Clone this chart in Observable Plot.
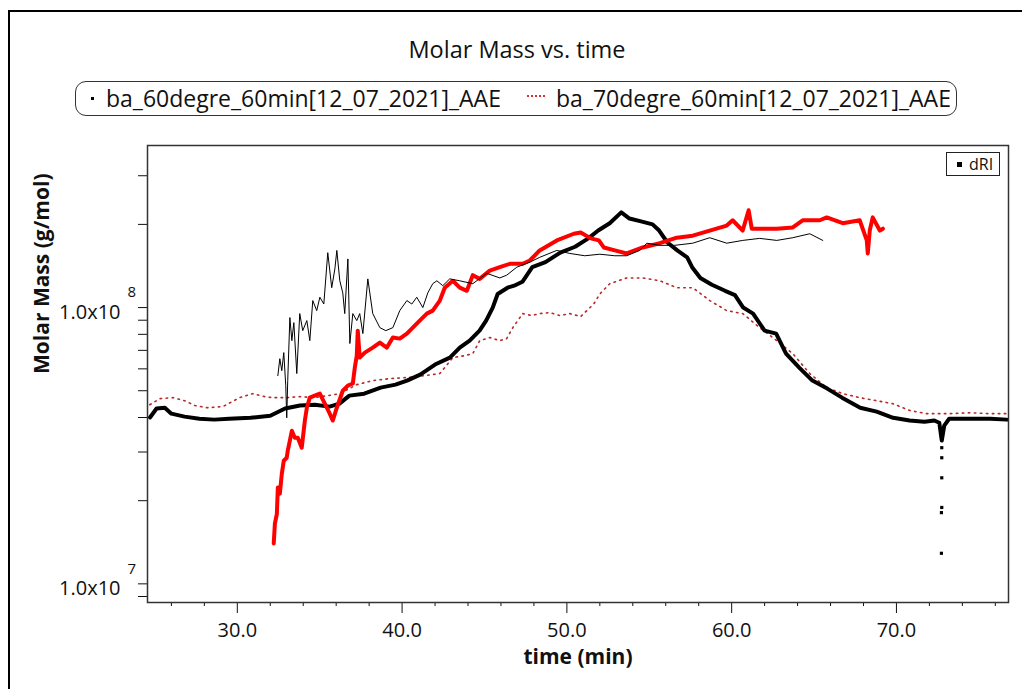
<!DOCTYPE html>
<html>
<head>
<meta charset="utf-8">
<script src="https://cdn.jsdelivr.net/npm/d3@7"></script>
<script src="https://cdn.jsdelivr.net/npm/@observablehq/plot@0.6"></script>
<style>
  body { margin: 0; background: #fff; font-family: "Open Sans", sans-serif; color: #111; }
  #page { position: relative; width: 1022px; height: 689px; overflow: hidden; background: #fff; }
  #border { position: absolute; left: 8px; top: 10px; width: 1200px; height: 900px; border-left: 2px solid #000; border-top: 2px solid #000; }
  #title { position: absolute; left: 0; width: 1034px; top: 33px; text-align: center; font-size: 23.5px; line-height: 32px; }
  #legend { position: absolute; left: 75px; top: 81px; width: 882px; height: 35px; border: 1.5px solid #333; border-radius: 11px; box-sizing: border-box; }
  #legend span { position: absolute; }
  .lt { font-size: 23px; line-height: 32px; top: 0; white-space: nowrap; }
  #mk1 { left: 15px; top: 15px; width: 3px; height: 3px; background: #000; }
  #mk2 { left: 451px; top: 13px; width: 18px; height: 0; border-top: 2px dotted #e03030; }
  #chart { position: absolute; left: 0; top: 130px; }
  #dri { position: absolute; left: 946px; top: 152px; width: 54px; height: 24px; border: 1px solid #222; box-sizing: border-box; background: #fff; }
  #dri .sq { position: absolute; left: 10px; top: 9px; width: 5px; height: 5px; background: #000; }
  #dri .tx { position: absolute; left: 22px; top: 0; font-size: 16px; line-height: 22px; }
</style>
</head>
<body>
<div id="page">
  <div id="border"></div>
  <div id="title">Molar Mass vs. time</div>
  <div id="legend">
    <span id="mk1"></span><span class="lt" style="left:30px">ba_60degre_60min[12_07_2021]_AAE</span>
    <span id="mk2"></span><span class="lt" style="left:480px">ba_70degre_60min[12_07_2021]_AAE</span>
  </div>
  <div id="chart"></div>
  <div id="dri"><span class="sq"></span><span class="tx">dRI</span></div>
</div>
<script>
// ---- axis ticks ----
const xMajorTicks = [30, 40, 50, 60, 70];
const xMinorTicks = [26, 28, 32, 34, 36, 38, 42, 44, 46, 48, 52, 54, 56, 58, 62, 64, 66, 68, 72, 74, 76];
const yMajorTicks = [1e7, 1e8];
const yMinorTicks = [9e6, 1e7, 2e7, 3e7, 4e7, 5e7, 6e7, 7e7, 8e7, 9e7, 1e8, 2e8, 3e8];

// ---- ba_60degre: thick black trace (time min, molar mass g/mol) ----
const blackThickTime = [24.7,25.1,25.6,26.0,26.8,27.7,28.6,29.5,30.8,32.0,
  32.9,33.8,34.7,35.6,36.2,36.8,37.7,38.7,39.6,40.3,
  41.1,42.0,42.9,43.5,44.1,44.7,45.1,45.5,45.8,46.4,
  46.8,47.3,47.9,48.7,49.6,50.5,51.3,51.9,52.6,53.3,
  53.8,54.5,55.2,55.6,56.1,56.7,57.3,57.6,58.1,58.8,
  59.6,60.2,60.7,61.3,62.0,62.7,63.3,64.1,64.9,65.8,
  66.7,67.8,68.8,69.8,70.8,71.7,72.3,72.6,72.75,72.9,73.2,
  74.5,75.7,76.7];
const blackThickMass = [4.00e7,4.31e7,4.34e7,4.13e7,4.03e7,3.96e7,3.93e7,3.96e7,3.99e7,4.06e7,
  4.31e7,4.42e7,4.45e7,4.38e7,4.49e7,4.80e7,4.88e7,5.13e7,5.26e7,5.44e7,
  5.72e7,6.22e7,6.59e7,7.16e7,7.59e7,8.25e7,8.97e7,10.0e7,11.2e7,11.8e7,
  12.0e7,12.4e7,14.0e7,14.6e7,15.8e7,16.6e7,17.8e7,19.0e7,20.2e7,22.1e7,
  21.0e7,20.5e7,20.0e7,19.0e7,17.2e7,16.1e7,15.2e7,14.0e7,12.8e7,12.1e7,
  11.5e7,11.1e7,10.0e7,9.51e7,8.25e7,8.05e7,6.81e7,6.06e7,5.44e7,5.09e7,
  4.72e7,4.34e7,4.20e7,3.99e7,3.90e7,3.86e7,3.90e7,3.83e7,3.30e7,3.74e7,3.96e7,
  3.96e7,3.96e7,3.93e7];
// isolated points of the dip near 72.7 min
const dipTime = [72.75, 72.75, 72.75, 72.75, 72.73, 72.73];
const dipMass = [3.11e7, 2.86e7, 2.42e7, 1.89e7, 1.81e7, 1.29e7];

// ---- ba_60degre: thin black trace ----
const thinTime = [32.46,32.58,32.70,32.82,32.94,33.00,33.06,33.19,33.31,33.43,
  33.61,33.79,33.97,34.22,34.40,34.58,34.82,35.01,35.25,35.49,
  35.73,35.92,36.04,36.22,36.40,36.52,36.71,36.83,37.01,37.25,
  37.43,37.62,37.92,38.22,38.65,39.01,39.44,39.86,40.29,40.59,
  40.89,41.26,41.56,41.86,42.11,42.47,42.89,43.50,44.29,45.14,
  45.93,46.35,46.96,47.75,48.35,49.39,50.18,51.09,52.00,52.91,
  53.63,54.42,54.85,55.64,56.55,57.64,58.67,59.70,60.67,61.70,
  62.74,63.71,64.74,65.53];
const thinMass = [5.67e7,6.53e7,5.91e7,6.87e7,5.22e7,3.99e7,5.44e7,9.20e7,7.59e7,8.82e7,
  5.77e7,9.51e7,8.25e7,8.97e7,7.59e7,10.6e7,9.75e7,10.9e7,10.3e7,15.8e7,
  11.8e7,13.8e7,16.1e7,12.5e7,11.3e7,9.51e7,15.0e7,7.41e7,9.51e7,8.97e7,
  9.51e7,8.05e7,12.7e7,9.51e7,8.46e7,8.25e7,8.46e7,9.75e7,10.6e7,10.3e7,
  10.9e7,10.0e7,11.3e7,12.2e7,12.5e7,12.0e7,12.7e7,12.5e7,12.2e7,13.3e7,
  12.8e7,13.1e7,14.0e7,14.6e7,15.2e7,16.1e7,15.7e7,15.4e7,15.6e7,15.4e7,
  15.4e7,16.1e7,17.1e7,16.8e7,16.8e7,17.1e7,17.9e7,17.1e7,17.5e7,17.8e7,
  17.5e7,17.9e7,18.5e7,17.5e7];

// ---- ba_70degre: thick red trace ----
const redTime = [32.21,32.28,32.40,32.46,32.58,32.70,32.82,33.00,33.06,33.31,
  33.49,33.67,33.91,34.10,34.22,34.40,34.70,35.01,35.31,35.61,
  35.79,36.04,36.40,36.71,37.01,37.13,37.25,37.31,37.43,37.74,
  38.22,38.65,39.07,39.44,39.86,40.29,40.65,41.07,41.50,41.86,
  42.29,42.59,43.08,43.50,43.93,44.29,44.71,45.32,45.93,46.54,
  47.32,47.75,48.35,49.39,50.42,50.84,51.45,51.94,52.24,52.91,
  53.63,54.60,55.64,56.67,57.64,58.67,59.70,60.06,60.67,61.03,
  61.22,61.70,62.74,63.71,64.31,65.35,65.77,66.74,67.77,68.20,
  68.26,68.38,68.56,68.99,69.18];
const redMass = [1.40e7,1.65e7,1.79e7,2.23e7,2.12e7,2.50e7,2.79e7,2.86e7,3.03e7,3.58e7,
  3.38e7,3.38e7,3.11e7,3.90e7,4.34e7,4.72e7,4.80e7,4.88e7,4.49e7,4.13e7,
  3.90e7,4.34e7,5.00e7,5.22e7,5.31e7,6.06e7,6.70e7,8.25e7,6.59e7,6.87e7,
  7.16e7,7.47e7,7.16e7,7.79e7,7.72e7,8.05e7,8.46e7,8.97e7,9.51e7,9.75e7,
  10.6e7,11.8e7,12.5e7,11.8e7,11.5e7,13.1e7,12.7e7,13.6e7,14.0e7,14.4e7,
  14.4e7,14.8e7,16.1e7,17.5e7,18.5e7,18.7e7,17.8e7,17.5e7,16.5e7,16.1e7,
  15.7e7,16.5e7,17.1e7,17.9e7,18.2e7,19.0e7,19.8e7,20.7e7,19.0e7,22.5e7,
  19.3e7,19.3e7,19.3e7,19.5e7,20.7e7,20.7e7,21.2e7,20.2e7,20.7e7,17.5e7,
  15.7e7,19.0e7,21.2e7,19.0e7,19.3e7];

// ---- ba_70degre: dotted dark-red trace ----
const dotTime = [24.69,25.30,26.09,26.81,27.42,28.15,29.12,30.15,30.94,31.67,
  32.15,33.00,33.79,34.70,35.49,36.22,37.25,38.22,39.25,40.29,
  41.38,42.29,43.08,43.81,44.29,44.71,45.32,45.93,46.35,46.72,
  47.32,47.87,48.35,48.96,49.57,50.18,50.84,51.63,52.00,52.60,
  53.63,54.60,55.64,56.67,57.64,58.67,59.70,60.67,61.70,62.74,
  63.71,64.74,65.77,66.74,67.77,68.80,69.78,70.81,71.84,73.23,
  74.45,75.66,76.69];
const dotMass = [4.45e7,4.68e7,4.72e7,4.60e7,4.42e7,4.34e7,4.38e7,4.72e7,4.88e7,4.76e7,
  4.72e7,4.72e7,4.76e7,4.72e7,4.80e7,4.88e7,5.26e7,5.44e7,5.53e7,5.58e7,
  5.67e7,5.77e7,6.59e7,6.70e7,6.81e7,7.59e7,7.79e7,7.59e7,7.72e7,8.46e7,
  9.51e7,9.36e7,9.51e7,9.59e7,9.36e7,9.51e7,9.28e7,10.3e7,11.2e7,12.2e7,
  12.8e7,12.8e7,12.5e7,11.8e7,11.8e7,10.6e7,9.75e7,9.51e7,8.46e7,7.59e7,
  6.81e7,5.77e7,5.13e7,4.88e7,4.72e7,4.60e7,4.49e7,4.24e7,4.13e7,4.13e7,
  4.16e7,4.13e7,4.13e7];

const zip = (ts, ms) => ts.map((t, i) => ({t, m: ms[i]}));
const blackThick = zip(blackThickTime, blackThickMass);
const dip = zip(dipTime, dipMass);
const thin = zip(thinTime, thinMass);
const red = zip(redTime, redMass);
const dotted = zip(dotTime, dotMass);

const chart = Plot.plot({
  width: 1022,
  height: 559,
  marginLeft: 147,
  marginRight: 14,
  marginTop: 15,
  marginBottom: 87,
  style: {fontFamily: "'Open Sans', sans-serif", background: "transparent", color: "#111", overflow: "visible"},
  x: {domain: [24.55, 76.8]},
  y: {type: "log", domain: [8.56e6, 3.86e8]},
  marks: [
    Plot.axisX({ticks: xMajorTicks, tickSize: 11, tickPadding: 9, tickFormat: d => d.toFixed(1), fontSize: 20, label: null}),
    Plot.axisX({ticks: xMinorTicks, tickSize: 4, tickFormat: () => "", label: null}),
    Plot.axisY({ticks: yMinorTicks, tickSize: 9, tickFormat: () => "", label: null}),
    Plot.text(yMajorTicks, {y: d => d, text: () => "1.0x10", frameAnchor: "left", dx: -27, dy: 5, textAnchor: "end", fontSize: 20}),
    Plot.text(yMajorTicks, {y: d => d, text: d => String(Math.round(Math.log10(d))), frameAnchor: "left", dx: -20, dy: -15, textAnchor: "start", fontSize: 15}),
    Plot.text(["time (min)"], {text: d => d, frameAnchor: "bottom", dy: 61, fontWeight: "bold", fontSize: 21}),
    Plot.text(["Molar Mass (g/mol)"], {text: d => d, frameAnchor: "left", dx: -105, rotate: -90, fontWeight: "bold", fontSize: 21}),
    Plot.line(dotted, {x: "t", y: "m", stroke: "#b82828", strokeWidth: 1.6, strokeDasharray: "1.5,4.5"}),
    Plot.line(blackThick, {x: "t", y: "m", stroke: "#000", strokeWidth: 4}),
    Plot.dot(dip, {x: "t", y: "m", symbol: "square", r: 1.8, fill: "#000"}),
    Plot.line(red, {x: "t", y: "m", stroke: "#ff0000", strokeWidth: 4}),
    Plot.line(thin, {x: "t", y: "m", stroke: "#000", strokeWidth: 1}),
    Plot.frame({stroke: "#333", strokeWidth: 1.5})
  ]
});
document.getElementById("chart").appendChild(chart);
</script>
</body>
</html>
